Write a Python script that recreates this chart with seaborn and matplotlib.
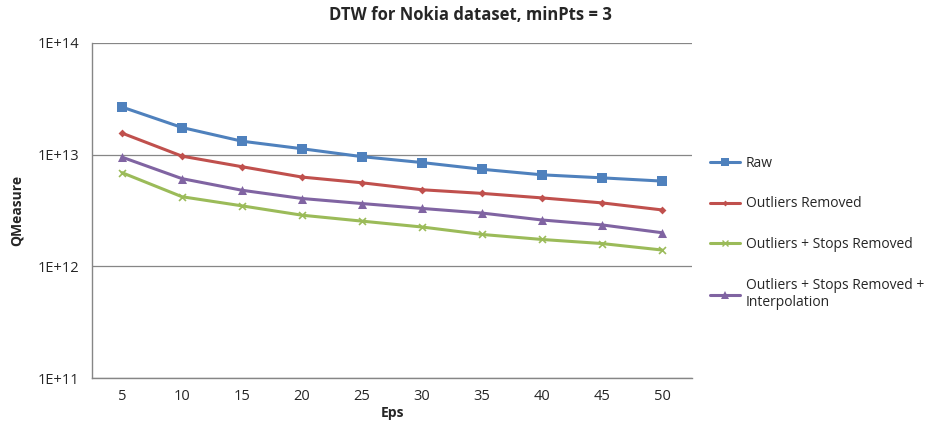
import pandas as pd
import seaborn as sns
import matplotlib.pyplot as plt
from matplotlib.lines import Line2D

# valores
eps = [5, 10, 15, 20, 25, 30, 35, 40, 45, 50]
raw = [2.67e13, 1.75e13, 1.32e13, 1.13e13, 9.6e12, 8.5e12, 7.4e12, 6.6e12, 6.2e12, 5.8e12]
outliers_removed = [1.56e13, 9.7e12, 7.8e12, 6.3e12, 5.6e12, 4.85e12, 4.5e12, 4.1e12, 3.7e12, 3.2e12]
stops_removed = [6.9e12, 4.2e12, 3.48e12, 2.87e12, 2.54e12, 2.25e12, 1.93e12, 1.74e12, 1.6e12, 1.4e12]
interpolation = [9.5e12, 6.1e12, 4.8e12, 4.05e12, 3.65e12, 3.3e12, 3.0e12, 2.6e12, 2.35e12, 2.0e12]

series_names = ["Raw", "Outliers Removed", "Outliers + Stops Removed",
                "Outliers + Stops Removed +\nInterpolation"]
y_ticks = [1e11, 1e12, 1e13, 1e14]
y_tick_labels = ["1E+11", "1E+12", "1E+13", "1E+14"]

df = pd.DataFrame({
    "Eps": eps * 4,
    "QMeasure": raw + outliers_removed + stops_removed + interpolation,
    "serie": sum([[n] * len(eps) for n in series_names], []),
})

sns.set_style("white")
plt.rcParams['font.family'] = ['Open Sans', 'DejaVu Sans']

cores = ["#4F81BD", "#C0504D", "#9BBB59", "#8064A2"]
marcadores = ["s", "D", "x", "^"]
tamanhos = [6.5, 4, 5, 6.5]

fig = plt.figure(figsize=(9.4, 4.28), dpi=100)
ax = fig.add_axes([92 / 940, 50 / 428, 600 / 940, 335 / 428])

sns.lineplot(data=df, x="Eps", y="QMeasure", hue="serie", palette=cores,
             hue_order=series_names, linewidth=2.2, ax=ax, legend=False)

# marcadores por serie
for i, nome in enumerate(series_names):
    sub = df[df["serie"] == nome]
    sns.scatterplot(data=sub, x="Eps", y="QMeasure", marker=marcadores[i], color=cores[i],
                    s=tamanhos[i] ** 2, linewidth=1.2 if marcadores[i] == "x" else 0,
                    ax=ax, legend=False, zorder=3)

ax.set_yscale("log")
ax.set_ylim(1e11, 1e14)
ax.set_yticks(y_ticks)
ax.set_yticklabels(y_tick_labels)
ax.minorticks_off()
ax.set_xlim(2.5, 52.5)
ax.set_xticks(eps)
ax.set_xticks([2.5 + 5 * k for k in range(11)], minor=True)
ax.tick_params(axis="x", which="major", length=0, pad=8, labelsize=10.5)
ax.tick_params(axis="x", which="minor", length=4, color="#868686", direction="out")
ax.tick_params(axis="y", length=5, color="#868686", direction="out", labelsize=10.5, pad=4)

ax.grid(axis="y", color="#868686", linewidth=0.9)
for s in ["top", "right"]:
    ax.spines[s].set_visible(False)
for s in ["left", "bottom"]:
    ax.spines[s].set_color("#868686")
    ax.spines[s].set_linewidth(1.0)

ax.set_xlabel("Eps", fontsize=10, fontweight="bold", labelpad=1)
ax.set_ylabel("QMeasure", fontsize=10, fontweight="bold", labelpad=10)
fig.text(0.5, 0.965, "DTW for Nokia dataset, minPts = 3", ha="center", va="center",
         fontsize=12, fontweight="bold")

# legenda
handles = [Line2D([], [], color=cores[i], marker=marcadores[i], markersize=tamanhos[i] - 1,
                  linewidth=2.2, markeredgewidth=1 if marcadores[i] == "x" else 0)
           for i in range(4)]
ax.legend(handles, series_names, loc="upper left", bbox_to_anchor=(1.02, 0.68),
          frameon=False, fontsize=10, handlelength=2.2, handletextpad=0.4,
          labelspacing=1.85, borderaxespad=0)

plt.savefig("out.png", dpi=100)
